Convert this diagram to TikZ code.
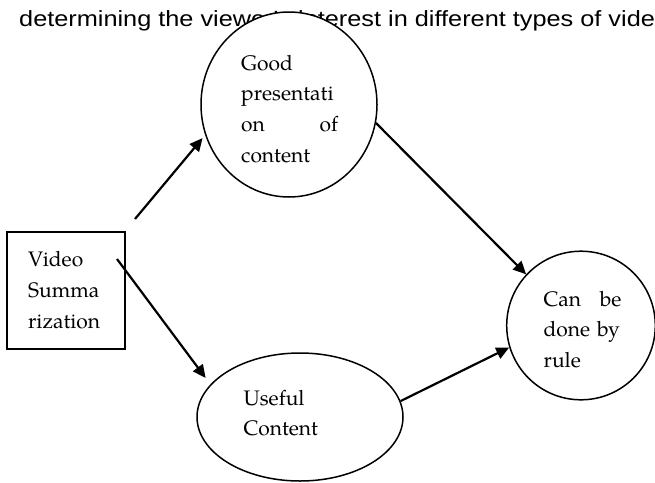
\documentclass[tikz,border=0pt]{standalone}
\usepackage{fontspec}
\setmainfont{TeX Gyre Pagella}
\newfontfamily\capfont[FakeStretch=1.15]{Liberation Sans}
\usetikzlibrary{arrows.meta,shapes.geometric}

\begin{document}
\begin{tikzpicture}[x=1pt,y=-1pt,
  shapeline/.style={draw=black,line width=1.5pt,fill=white,inner sep=0pt},
  bubble/.style={shapeline,ellipse},
  flow/.style={line width=2.2pt,-{Triangle[length=13pt,width=12pt]}},
  body/.style={inner sep=0pt,anchor=base west,align=left,
    font=\fontsize{21}{30.8}\selectfont},
  caption/.style={inner sep=0pt,anchor=base west,
    font=\capfont\fontsize{22}{26}\selectfont}]
\useasboundingbox (0,0) rectangle (655,482);
\clip (0,0) rectangle (655,482);

% line of running text behind the upper circle
\node[caption] (captxt) at (19,26)
  {determining the viewer's interest in different types of video};

% shapes
\node[shapeline,minimum width=118pt,minimum height=117pt] (video) at (66,290.5) {};
\node[bubble,minimum width=176pt,minimum height=185pt] (good) at (289,104.5) {};
\node[bubble,minimum width=206pt,minimum height=128pt] (useful) at (300,417) {};
\node[bubble,minimum width=148.6pt,minimum height=148.6pt] (rule) at (581,325.5) {};

% labels
\node[body,text width=90pt] (videotxt) at (28,266.7) {Video\\Summa\\rization};
\node[body,text width=97pt] (goodtxt) at (241,70) {Good\\presentati\\on\hfill of\\content};
\node[body,text width=100pt] (usefultxt) at (243.3,405) {Useful\\Content};
\node[body,text width=78pt] (ruletxt) at (543.3,306) {Can\hfill be\\done by\\rule};

% connectors
\coordinate (a1) at (135,219);
\coordinate (a2) at (117,259);
\draw[flow,shorten >=4pt] (a1) -- (good.200);
\draw[flow,shorten >=8pt] (a2) -- (useful.160);
\draw[flow] (good.-12) -- (rule.137);
\draw[flow] (useful.9.4) -- (rule.197);
\end{tikzpicture}
\end{document}
